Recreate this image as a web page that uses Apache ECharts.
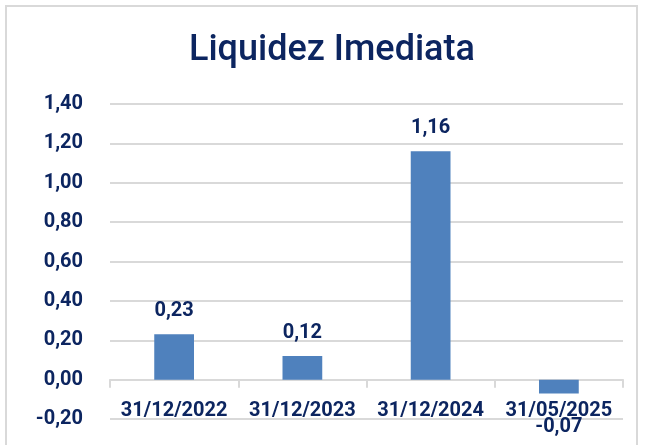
<!DOCTYPE html>
<html>
<head>
<meta charset="utf-8">
<script src="https://cdn.jsdelivr.net/npm/echarts@6/dist/echarts.min.js"></script>
<style>
  html, body { margin: 0; padding: 0; background: #fff; }
  #frame { position: absolute; left: 5px; top: 5px; width: 633px; height: 460px; border: 2px solid #d9d9d9; box-sizing: border-box; }
  #chart { position: absolute; left: 0; top: 0; width: 645px; height: 445px; }
</style>
</head>
<body>
<div id="frame"></div>
<div id="chart"></div>
<script>
const categories = ['31/12/2022', '31/12/2023', '31/12/2024', '31/05/2025']
const values = [0.23, 0.12, 1.16, -0.07]
const navy = '#0c2560'
const fmt = v => v.toFixed(2).replace('.', ',')

const chart = echarts.init(document.getElementById('chart'))
chart.setOption({
  animation: false,
  title: {
    text: 'Liquidez Imediata',
    left: 184,
    top: 28,
    textStyle: { fontFamily: 'Roboto', fontSize: 36, fontWeight: 500, color: navy }
  },
  grid: { left: 110, right: 22, top: 104, bottom: 26, outerBoundsMode: 'none', containLabel: false },
  xAxis: {
    type: 'category',
    data: categories,
    axisLine: { lineStyle: { color: '#d9d9d9', width: 2 } },
    axisTick: { show: true, length: 8, lineStyle: { color: '#d9d9d9', width: 2 } },
    axisLabel: { interval: 0, hideOverlap: false, margin: -18, fontFamily: 'Roboto', fontSize: 20, color: navy, fontWeight: 'bold' }
  },
  yAxis: {
    type: 'value',
    min: -0.2,
    max: 1.4,
    interval: 0.2,
    axisLine: { show: false },
    splitLine: { lineStyle: { color: '#d9d9d9', width: 2 } },
    axisLabel: {
      margin: 27,
      fontFamily: 'Roboto', fontSize: 20, color: navy, fontWeight: 'bold',
      formatter: v => fmt(v)
    }
  },
  series: [{
    type: 'bar',
    data: values.map(v => v < 0 ? { value: v, label: { distance: 24 } } : v),
    barWidth: '31%',
    itemStyle: { color: '#4f81bd' },
    label: {
      show: true,
      position: 'outside',
      distance: 13,
      fontFamily: 'Roboto', fontSize: 20, color: navy, fontWeight: 'bold',
      formatter: p => fmt(p.value)
    }
  }]
})
</script>
</body>
</html>
